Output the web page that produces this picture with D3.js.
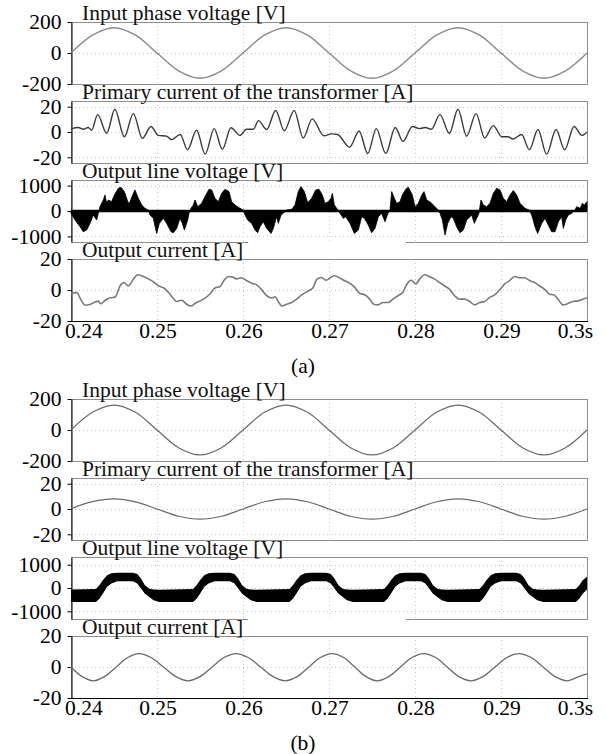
<!DOCTYPE html>
<html>
<head>
  <meta charset="utf-8">
  <title>Waveforms (a) and (b)</title>
  <style>
    * { margin: 0; padding: 0; }
    body { background: #fff; }
    svg { display: block; }
    svg text { font-family: "Liberation Serif", "Times New Roman", serif; }
  </style>
</head>
<body>
  <script src="https://cdn.jsdelivr.net/npm/d3@7"></script>
  <script>
    // time axis: ms after 0.24 s
    var xTicks = [0, 10, 20, 30, 40, 50, 60]
    var xTickLabels = ['0.24', '0.25', '0.26', '0.27', '0.28', '0.29', '0.3s']
    var titles = ['Input phase voltage [V]', 'Primary current of the transformer [A]', 'Output line voltage [V]', 'Output current [A]']
    var captions = ['(a)', '(b)']
    var yTicksVin = [-200, 0, 200]
    var yTicksIp = [-20, 0, 20]
    var yTicksLv = [-1000, 0, 1000]
    var yTicksIo = [-20, 0, 20]

    // input phase voltage
    var vinT = [0, 2.5, 5, 7.5, 10, 12.5, 15, 17.5, 20, 22.5, 25, 27.5, 30, 32.5, 35, 37.5, 40, 42.5, 45, 47.5, 50, 52.5, 55, 57.5, 60]
    var vinA = [0, 115, 163, 115, 0, -115, -163, -115, 0, 115, 163, 115, 0, -115, -163, -115, 0, 115, 163, 115, 0, -115, -163, -115, 0]
    var vinB = [0, 114, 161, 114, 0, -114, -161, -114, 0, 114, 161, 114, 0, -114, -161, -114, 0, 114, 161, 114, 0, -114, -161, -114, 0]

    // primary current (a)
    var ipAT = [0, 0.85, 1.43, 2.0, 2.4, 3.1, 4.15, 5.1, 6.2, 7.25, 8.3, 9.3, 10.15, 11.1, 11.7, 12.7, 13.55, 14.6, 15.6, 16.65,
      17.6, 18.6, 19.65, 20.4, 21.2, 21.8, 22.75, 23.8, 24.8, 25.95, 27.0, 28.05, 29.4, 30.3, 31.0, 32.4, 33.5, 34.5, 35.5, 36.6,
      37.7, 38.6, 39.7, 40.5, 41.2, 41.9, 42.9, 44.0, 45.0, 46.0, 47.1, 48.1, 49.1, 50.1, 50.8, 51.4, 52.4, 53.3, 54.3, 55.3,
      56.4, 57.4, 58.5, 59.4, 60]
    var ipA = [2.5, 3.5, 2.2, 3.5, 1.4, 13.7, -1, 18, -3.8, 14.5, -5, 4.4, -2.7, -3.3, -6, -2, -14, 1.4, -17.5, 2.7,
      -13.7, 3.3, -2.7, 2.2, 2.2, 9, 2, 17, 1, 17, -4.7, 10.4, -3, -1.5, -2, -12, 0.8, -17, 2.7, -17,
      3.6, -7.4, 4.4, 2.7, 3.6, 2.2, 13.7, -1, 18, -3.3, 14.5, -4.7, 5, -3.8, -3.8, -5.5, -2, -14, 2, -17.5,
      2, -14, 4.4, -2.7, 0]

    // primary current (b)
    var ipB = [0.3, 5.8, 8, 5.6, 0, -5.7, -8, -5.7, 0, 5.7, 8, 5.7, 0, -5.7, -8, -5.7, 0, 5.7, 8, 5.7, 0, -5.7, -8, -5.7, 0]

    // output line voltage (a): PWM envelope
    var lvAT = [0, 0.47, 1.05, 1.43, 1.82, 2.21, 2.6, 2.98, 3.18, 3.37, 3.76, 3.95, 4.15, 4.34, 4.73, 5.04, 5.5, 5.81, 6.2, 6.67,
      6.86, 7.25, 7.44, 7.83, 8.22, 8.6, 8.99, 9.19, 9.57, 9.96, 10.27, 10.74, 11.12, 11.63, 11.9, 12.29, 12.67, 12.95, 13.18, 13.57,
      13.72, 13.95, 14.22, 14.42, 14.73, 15.19, 15.58, 16.05, 16.36, 16.74, 17.13, 17.52, 17.91, 18.37, 18.68, 19.07, 19.65, 20.04, 20.23, 20.54,
      21.01, 21.4, 21.71, 21.98, 22.36, 22.75, 23.26, 23.53, 23.91, 24.11, 24.42, 24.88, 25.08, 25.66, 26.05, 26.43, 26.74, 27.13, 27.52, 27.98,
      28.45, 28.84, 29.22, 29.53, 29.92, 30.23, 30.39, 30.62, 30.89, 31.09, 31.28, 31.67, 31.94, 32.44, 32.95, 33.41, 33.8, 34.11, 34.57, 34.96,
      35.35, 35.74, 36.12, 36.51, 36.82, 37.09, 37.29, 37.6, 37.87, 38.26, 38.53, 38.92, 39.22, 39.69, 40.0, 40.39, 40.78, 41.05, 41.36, 41.86,
      42.33, 42.71, 42.91, 43.18, 43.49, 43.8, 44.19, 44.45, 44.84, 45.23, 45.62, 46.01, 46.59, 46.9, 47.17, 47.44, 47.67, 47.95, 48.33, 48.72,
      49.11, 49.5, 49.88, 50.27, 50.66, 51.05, 51.43, 51.82, 52.21, 52.79, 53.26, 53.57, 53.95, 54.26, 54.73, 55.12, 55.5, 55.89, 56.28, 56.67,
      57.05, 57.25, 57.52, 57.83, 58.22, 58.6, 58.8, 59.19, 59.46, 59.69, 60]
    var lvA = [-92, -355, -618, -816, -750, -487, -158, -355, -92, 171, 434, 632, 303, 434, 368, 632, 895, 934, 763, 303,
      368, 697, 829, 500, 237, 105, 39, -158, -290, -882, -487, -290, -487, -816, -855, -684, -290, -487, -750, -355,
      -92, 105, 237, 434, 171, 303, 566, 855, 829, 500, 368, 697, 855, 763, 368, 237, 105, 39, -158, -355,
      -487, -750, -855, -618, -421, -684, -882, -684, -224, -487, -158, -26, 39, 66, 237, 763, 961, 763, 329, 500,
      829, 855, 632, 303, 368, 500, 697, 237, 105, 20, -92, -290, -224, -487, -882, -750, -224, -290, -553, -855,
      -684, -224, -92, -421, -118, 39, 763, 500, 303, 368, 632, 855, 934, 632, 171, 303, 632, 763, 434, 329,
      171, 39, -92, -355, -947, -487, -224, -290, -618, -855, -750, -355, -158, -487, -290, -92, 434, 237, 171, 303,
      697, 895, 829, 500, 368, 632, 803, 632, 303, 105, 39, -158, -618, -882, -487, -290, -553, -816, -816, -421,
      -224, -684, -355, -158, -92, 39, 171, 105, 303, 237, 368]

    // output line voltage (b): multilevel band, upper and lower edge
    var lvBT = [0, 2.9, 3.3, 3.7, 4.2, 4.7, 5.4, 7.2, 7.7, 8.1, 8.6, 9.1, 9.6, 10.3,
      14.2, 14.6, 15.0, 15.5, 16.0, 16.7, 18.5, 19.0, 19.4, 19.9, 20.4, 20.9, 21.6,
      25.4, 25.8, 26.2, 26.7, 27.2, 27.9, 29.7, 30.2, 30.6, 31.1, 31.6, 32.1, 32.8,
      36.4, 36.8, 37.2, 37.7, 38.2, 38.9, 40.7, 41.2, 41.6, 42.1, 42.6, 43.1, 43.8,
      47.5, 47.9, 48.3, 48.8, 49.3, 50.0, 51.8, 52.3, 52.7, 53.2, 53.7, 54.2, 54.9,
      58.7, 59.1, 59.5, 60]
    var lvBHi = [-60, -40, 120, 330, 550, 630, 650, 650, 600, 430, 120, -30, -60, -80,
      -40, 120, 330, 550, 630, 650, 650, 600, 430, 120, -30, -60, -80,
      -40, 120, 330, 550, 630, 650, 650, 600, 430, 120, -30, -60, -80,
      -40, 120, 330, 550, 630, 650, 650, 600, 430, 120, -30, -60, -80,
      -40, 120, 330, 550, 630, 650, 650, 600, 430, 120, -30, -60, -80,
      -40, 120, 330, 480]
    var lvBLo = [-600, -600, -460, -250, 50, 190, 290, 290, 190, 0, -250, -390, -530, -600,
      -600, -460, -250, 50, 190, 290, 290, 190, 0, -250, -390, -530, -600,
      -600, -460, -250, 50, 190, 290, 290, 190, 0, -250, -390, -530, -600,
      -600, -460, -250, 50, 190, 290, 290, 190, 0, -250, -390, -530, -600,
      -600, -460, -250, 50, 190, 290, 290, 190, 0, -250, -390, -530, -600,
      -600, -460, -250, -60]

    // output current (a)
    var ioAT = [0, 0.66, 1.24, 1.63, 2.21, 2.79, 3.18, 3.45, 3.95, 4.53, 5.12, 5.7, 6.16, 6.67, 7.25, 7.75, 8.22, 8.8, 9.38, 9.88,
      10.35, 10.81, 11.32, 11.82, 12.29, 12.87, 13.45, 13.92, 14.42, 15.0, 15.58, 16.16, 16.74, 17.33, 17.79, 18.29, 18.8, 19.26, 19.84, 20.4,
      21.0, 21.55, 22.1, 22.75, 23.33, 23.72, 24.1, 24.5, 25.08, 25.66, 26.24, 26.82, 27.56, 28.14, 28.6, 29.1, 29.69, 30.08, 30.66, 31.24,
      31.82, 32.4, 32.99, 33.57, 34.15, 34.73, 35.2, 35.7, 36.28, 36.86, 37.44, 38.02, 38.6, 39.07, 39.57, 40.08, 40.62, 41.12, 41.71, 42.29,
      42.87, 43.45, 44.03, 44.61, 45.19, 45.78, 46.36, 46.94, 47.52, 48.1, 48.68, 49.26, 49.84, 50.43, 51.01, 51.59, 52.17, 52.75, 53.33, 53.91,
      54.5, 55.08, 55.66, 56.12, 56.63, 57.21, 57.79, 58.37, 58.95, 59.53, 60]
    var ioA = [-2.2, -1.7, -7.2, -9.8, -9.4, -7.7, -7.2, -8.9, -6.8, -5.0, -4.6, 2.6, 4.8, 2.6, 7.0, 9.8, 9.2, 7.7, 6.0, 3.9,
      2.2, 1.3, -1.5, -4.8, -7.4, -6.6, -9.2, -10.3, -8.7, -7.0, -5.2, -2.6, 1.3, 2.2, 6.1, 8.7, 8.3, 7.2, 7.9, 6.1,
      4.4, 3.5, 0.7, -3.7, -5.2, -4.4, -7.4, -10.3, -9.2, -8.1, -5.9, -3.1, -0.7, 1.5, 7.0, 8.1, 6.3, 7.7, 9.2, 7.7,
      6.0, 4.4, 1.7, -2.2, -3.1, -5.9, -9.2, -9.6, -8.1, -8.1, -5.9, -3.7, -1.5, 3.9, 6.3, 3.9, 7.7, 9.8, 8.5, 7.0,
      4.8, 2.6, 0.4, -3.7, -5.9, -5.9, -7.4, -9.6, -8.1, -7.4, -4.8, -3.1, 0, 3.9, 6.1, 8.7, 7.9, 7.9, 6.1, 4.8,
      2.6, 0.4, -2.8, -3.1, -5.9, -9.6, -8.7, -7.4, -7.0, -5.9, -5.2]

    // output current (b)
    var ioBT = [0, 1.3, 2.6, 3.9, 5.25, 6.6, 7.9, 9.3, 10.75, 12.2, 13.6, 15.0, 16.4, 17.8, 19.2, 20.6, 22.05, 23.5, 24.9, 26.3,
      27.65, 29.0, 30.4, 31.7, 33.0, 34.3, 35.6, 36.95, 38.3, 39.65, 41.0, 42.4, 43.75, 45.1, 46.5, 47.9, 49.3, 50.7, 52.1, 53.5,
      54.9, 56.3, 57.7, 59.0, 60]
    var ioB = [0, -6.2, -8.9, -6.2, 0, 6.1, 8.6, 6.1, 0, -6.2, -8.9, -6.2, 0, 6.1, 8.6, 6.1, 0, -6.2, -8.9, -6.2,
      0, 6.1, 8.6, 6.1, 0, -6.2, -8.9, -6.2, 0, 6.1, 8.6, 6.1, 0, -6.2, -8.9, -6.2, 0, 6.1, 8.6, 6.1,
      0, -6.2, -8.9, -6.3, -4.5]

    var W = 606, H = 754
    var figTop = [22, 399]
    var panelH = 62, step = 79
    var fs = '21.5px'

    var svg = d3.select('body').append('svg').attr('width', W).attr('height', H)
    var x = d3.scaleLinear().domain([0, 60]).range([71, 587])

    function pts(t, v) {
      return t.map(function (d, i) { return { t: d, v: v[i] } })
    }

    function panel(top, dom, ticks, title) {
      var y = d3.scaleLinear().domain(dom).range([top + panelH, top])
      var g = svg.append('g')

      g.selectAll('line.vg').data(xTicks.slice(1, -1)).enter().append('line')
        .attr('class', 'vg')
        .attr('x1', d => x(d) + 0.5).attr('x2', d => x(d) + 0.5)
        .attr('y1', top).attr('y2', top + panelH)
        .attr('stroke', '#c6c6c6').attr('stroke-dasharray', '1,3')
      g.selectAll('line.hg').data(ticks).enter().append('line')
        .attr('class', 'hg')
        .attr('x1', x(0)).attr('x2', x(60))
        .attr('y1', d => Math.round(y(d)) + 0.5).attr('y2', d => Math.round(y(d)) + 0.5)
        .attr('stroke', '#c6c6c6').attr('stroke-dasharray', '1,3')

      g.append('rect')
        .attr('x', x(0) + 0.5).attr('y', Math.round(top) + 0.5)
        .attr('width', x(60) - x(0)).attr('height', panelH)
        .attr('fill', 'none').attr('stroke', '#8e8e8e')

      var ax = g.append('g').attr('transform', 'translate(' + (x(0) + 0.5) + ',0)')
        .call(d3.axisLeft(y).tickValues(ticks).tickSize(4).tickSizeOuter(0).tickPadding(6).tickFormat(d => String(d)))
      ax.attr('font-family', null).attr('font-size', null)
      ax.selectAll('text').style('font-size', fs).attr('fill', '#000')

      g.append('text')
        .attr('x', 82).attr('y', top - 2)
        .style('font-size', fs).attr('fill', '#111')
        .text(title)

      return { g: g, y: y }
    }

    function trace(p, data, curve, color, width) {
      var line = d3.line().x(d => x(d.t)).y(d => p.y(d.v)).curve(curve)
      p.g.append('path').datum(data)
        .attr('d', line)
        .attr('fill', 'none').attr('stroke', color).attr('stroke-width', width)
    }

    captions.forEach(function (cap, f) {
      var top0 = figTop[f]
      var p1 = panel(top0, [-200, 200], yTicksVin, titles[0])
      var p2 = panel(top0 + step, [-24.5, 24.5], yTicksIp, titles[1])
      var p3 = panel(top0 + 2 * step, f === 0 ? [-1220, 1220] : [-1330, 1330], yTicksLv, titles[2])
      var p4 = panel(top0 + 3 * step, [-20, 20], yTicksIo, titles[3])

      // missing piece of the frame under panel 3
      p3.g.append('rect')
        .attr('x', 248).attr('y', top0 + 2 * step + panelH - 1)
        .attr('width', 158).attr('height', 3).attr('fill', '#fff')

      if (f === 0) {
        trace(p1, pts(vinT, vinA), d3.curveCatmullRom, '#8a8a8a', 1.4)
        trace(p2, pts(ipAT, ipA), d3.curveMonotoneX, '#3a3a3a', 1.4)
        p3.g.append('path').datum(pts(lvAT, lvA))
          .attr('d', d3.area().x(d => x(d.t)).y0(p3.y(0)).y1(d => p3.y(d.v)))
          .attr('fill', '#000').attr('stroke', '#000').attr('stroke-width', 0.8)
        p3.g.append('line')
          .attr('x1', x(0)).attr('x2', x(60)).attr('y1', p3.y(0)).attr('y2', p3.y(0))
          .attr('stroke', '#000').attr('stroke-width', 2.5)
        trace(p4, pts(ioAT, ioA), d3.curveMonotoneX, '#7a7a7a', 1.6)
      } else {
        trace(p1, pts(vinT, vinB), d3.curveCatmullRom, '#6a6a6a', 1.2)
        trace(p2, pts(vinT, ipB), d3.curveCatmullRom, '#6a6a6a', 1.2)
        var band = lvBT.map(function (d, i) { return { t: d, hi: lvBHi[i], lo: lvBLo[i] } })
        p3.g.append('path').datum(band)
          .attr('d', d3.area().x(d => x(d.t)).y0(d => p3.y(d.lo)).y1(d => p3.y(d.hi)))
          .attr('fill', '#000')
        trace(p4, pts(ioBT, ioB), d3.curveCatmullRom, '#6a6a6a', 1.3)
      }

      // x axis of the bottom panel
      var yb = top0 + 3 * step + panelH
      p4.g.append('line')
        .attr('x1', x(0)).attr('x2', x(60) + 1).attr('y1', yb + 0.5).attr('y2', yb + 0.5)
        .attr('stroke', '#000')
      p4.g.selectAll('text.xl').data(xTicks).enter().append('text')
        .attr('class', 'xl')
        .attr('x', (d, i) => i === 0 ? x(d) - 6 : (i === xTicks.length - 1 ? x(d) + 6 : x(d) + 1))
        .attr('y', yb + 17)
        .attr('text-anchor', (d, i) => i === 0 ? 'start' : (i === xTicks.length - 1 ? 'end' : 'middle'))
        .style('font-size', fs).attr('fill', '#000')
        .text((d, i) => xTickLabels[i])

      svg.append('text')
        .attr('x', 303).attr('y', yb + 52)
        .attr('text-anchor', 'middle').style('font-size', fs).attr('fill', '#000')
        .text(cap)
    })
  </script>
</body>
</html>
